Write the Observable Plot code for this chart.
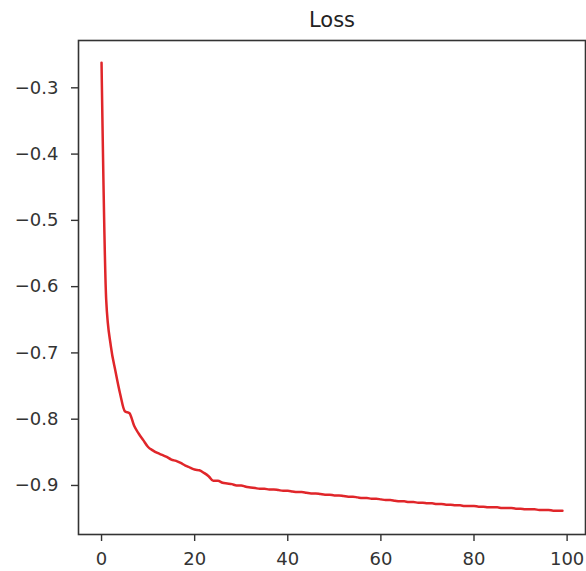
<!DOCTYPE html>
<html>
<head>
<meta charset="utf-8">
<script src="https://cdn.jsdelivr.net/npm/d3@7"></script>
<script src="https://cdn.jsdelivr.net/npm/@observablehq/plot@0.6"></script>
<style>
  html, body { margin: 0; padding: 0; background: #fff; }
  #chart svg { display: block; }
</style>
</head>
<body>
<div id="chart"></div>
<script>
const title = "Loss";
const loss = [
  -0.262, -0.620, -0.690, -0.728, -0.762, -0.788, -0.791, -0.810, -0.822, -0.832,
  -0.842, -0.847, -0.851, -0.854, -0.857, -0.861, -0.863, -0.866, -0.870, -0.873,
  -0.876, -0.877, -0.881, -0.886, -0.893, -0.893, -0.896, -0.897, -0.898, -0.900,
  -0.900, -0.902, -0.903, -0.904, -0.905, -0.905, -0.906, -0.906, -0.907, -0.908,
  -0.908, -0.909, -0.910, -0.910, -0.911, -0.912, -0.912, -0.913, -0.914, -0.914,
  -0.915, -0.915, -0.916, -0.917, -0.917, -0.918, -0.919, -0.919, -0.920, -0.920,
  -0.921, -0.922, -0.922, -0.923, -0.924, -0.924, -0.925, -0.925, -0.926, -0.926,
  -0.927, -0.927, -0.928, -0.928, -0.929, -0.929, -0.930, -0.930, -0.931, -0.931,
  -0.931, -0.932, -0.932, -0.933, -0.933, -0.933, -0.934, -0.934, -0.934, -0.935,
  -0.935, -0.936, -0.936, -0.936, -0.937, -0.937, -0.937, -0.938, -0.938, -0.938
];
const xTicks = [0, 20, 40, 60, 80, 100];
const yTicks = [-0.9, -0.8, -0.7, -0.6, -0.5, -0.4, -0.3];
const xDomain = [-4.95, 103.95];
const yDomain = [-0.974, -0.2286];

const fmt = d3.format(".1f");

const chart = Plot.plot({
  width: 586,
  height: 571,
  marginLeft: 78,
  marginRight: 1,
  marginTop: 40,
  marginBottom: 37,
  style: { fontFamily: "DejaVu Sans", fontSize: "18px", color: "#333", background: "#fff" },
  x: { domain: xDomain },
  y: { domain: yDomain },
  marks: [
    Plot.lineY(loss, { x: (d, i) => i, y: d => d, stroke: "#e0262a", strokeWidth: 2.5, curve: "monotone-x" }),
    Plot.frame({ stroke: "#333", strokeWidth: 1.6 }),
    Plot.axisX({ ticks: xTicks, tickSize: 7, tickPadding: 11, label: null, fontSize: 18, stroke: "#333", strokeWidth: 1.4 }),
    Plot.axisY({ ticks: yTicks, tickSize: 7, tickPadding: 13, tickFormat: fmt, label: null, fontSize: 18, stroke: "#333", strokeWidth: 1.4 }),
    Plot.text([title], { frameAnchor: "top", dy: -28, text: d => d, fontSize: 21, fill: "#222" })
  ]
});
document.getElementById("chart").appendChild(chart);
</script>
</body>
</html>
